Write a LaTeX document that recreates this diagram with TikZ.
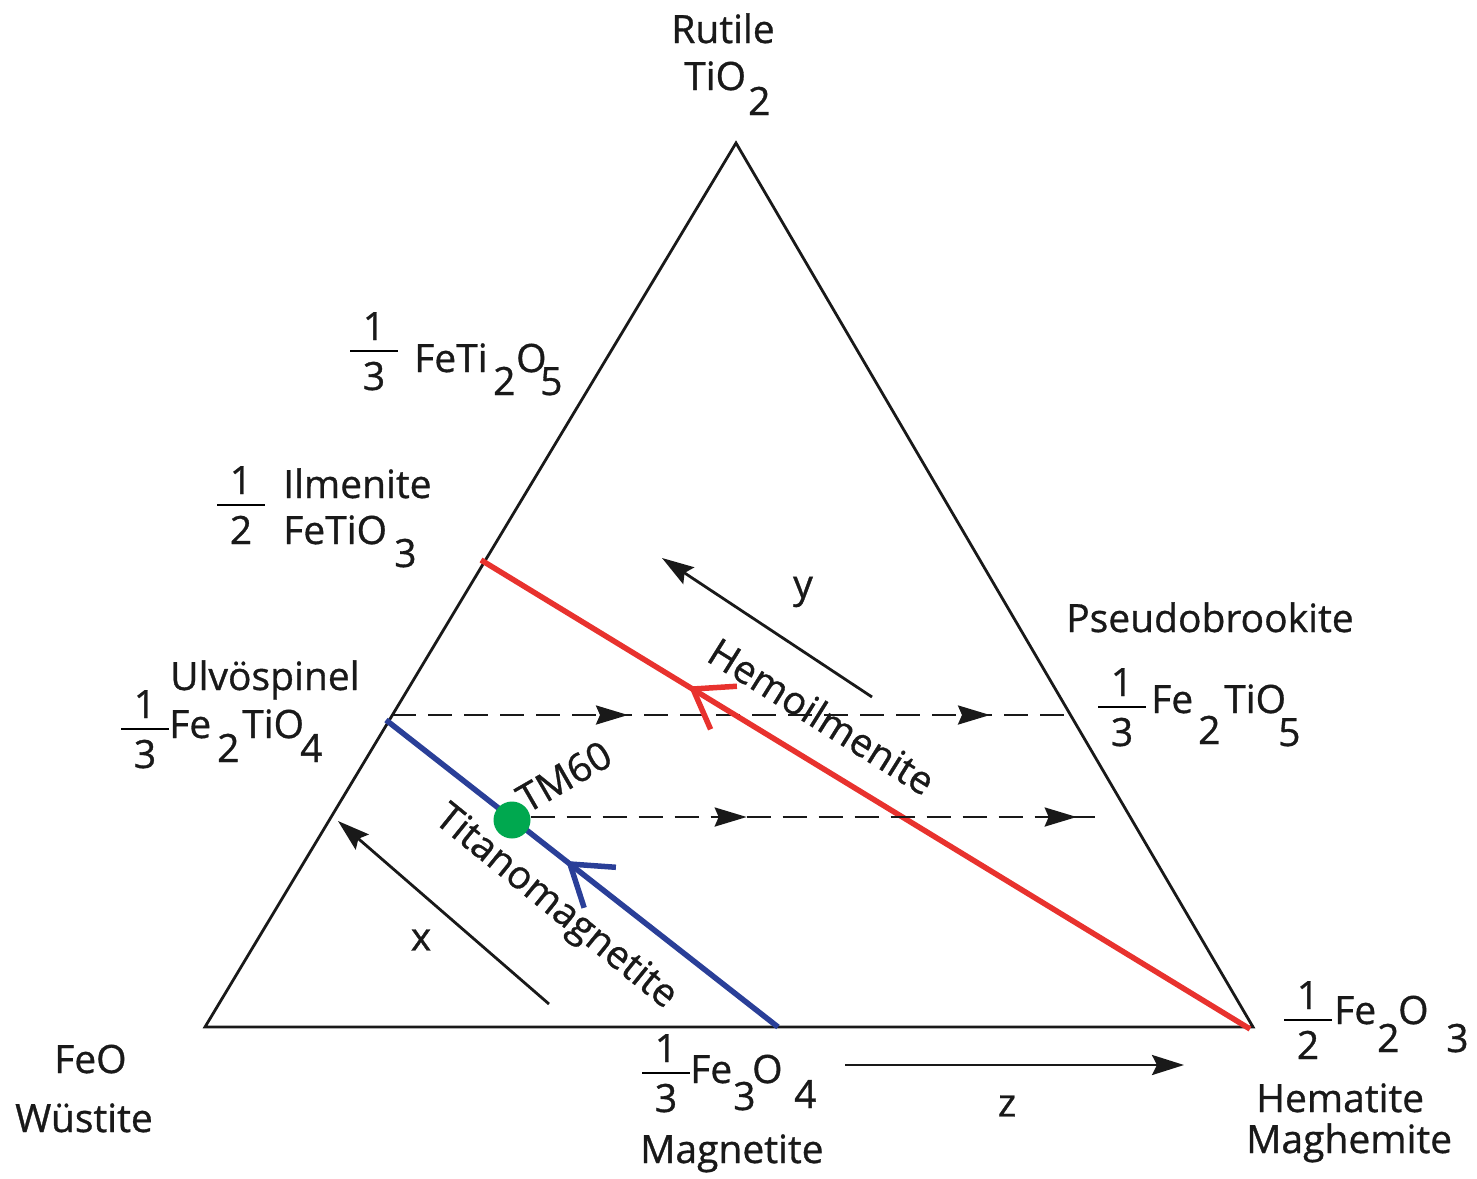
\documentclass[tikz,border=0pt]{standalone}
\usepackage{fontspec}
\setmainfont{Open Sans}[FakeBold=0.8]
\usetikzlibrary{arrows.meta,decorations.markings,calc}
\definecolor{redl}{HTML}{E8322E}
\definecolor{bluel}{HTML}{2A3F98}
\definecolor{greend}{HTML}{00A84F}
\newcommand\chemfs{\fontsize{39}{44}\selectfont}
\tikzset{
  midtip/.tip={Stealth[length=32pt,width=19pt,inset=4pt]},
  pics/fr/.style 2 args={code={
    \node[anchor=base] (-n) at (0,-11) {#1};
    \node[anchor=base] (-d) at (0,39) {#2};
    \draw[line width=2.6pt] (-24,0) -- (24,0);
  }},
}
\begin{document}
\begin{tikzpicture}[x=1pt,y=-1pt,
  every node/.style={font=\chemfs, inner sep=0pt, text=black!90},
  lbl/.style={anchor=base west},
  tri/.style={line width=2.8pt, line join=miter, black!90},
  redln/.style={line width=5.5pt, redl},
  blueln/.style={line width=5.5pt, bluel},
  dashln/.style={line width=2.8pt, black!90, dash pattern=on 24pt off 12pt},
  blkarrow/.style={line width=2.8pt, black!90, -{Stealth[length=32pt,width=20pt,inset=5pt]}},
]
\useasboundingbox (0,0) rectangle (1477,1178);

% triangle
\coordinate (T) at (736,143);
\coordinate (L) at (205,1027);
\coordinate (R) at (1253,1027);
\draw[tri] (T) -- (L) -- (R) -- cycle;

% dashed lines with arrows
\coordinate (d1s) at (392,715);
\coordinate (d1e) at (1070,715);
\draw[dashln, postaction={decorate}, decoration={markings,
   mark=at position 236pt with {\arrow{midtip}},
   mark=at position 598pt with {\arrow{midtip}}}] (d1s) -- (d1e);

% red line (hemoilmenite)
\coordinate (Rs) at (481,560);
\coordinate (Re) at (1250,1029);
\draw[redln] (Rs) -- (Re);
\coordinate (rv) at (693,689);
\draw[redln] ($(rv)!44pt!35:(Re)$) -- (rv) -- ($(rv)!44pt!-35:(Re)$);

% blue line (titanomagnetite)
\coordinate (Bs) at (386,720);
\coordinate (Be) at (778,1027);
\draw[blueln] (Bs) -- (Be);
\coordinate (bv) at (570,864);
\draw[blueln] ($(bv)!46pt!34:(Be)$) -- (bv) -- ($(bv)!46pt!-34:(Be)$);

% TM60 dot and dashed line
\node[circle, fill=greend, minimum size=37pt, inner sep=0pt] (D) at (512,820) {};
\coordinate (d2e) at (1105,817);
\draw[dashln, postaction={decorate}, decoration={markings,
   mark=at position 216pt with {\arrow{midtip}},
   mark=at position 546pt with {\arrow{midtip}}}] (D.east |- d2e) -- (d2e);

% black arrows x, y, z
\coordinate (ya) at (872,697);
\coordinate (yb) at (662,558);
\draw[blkarrow] (ya) -- (yb);
\coordinate (xa) at (549,1004);
\coordinate (xb) at (338,821);
\draw[blkarrow] (xa) -- (xb);
\coordinate (za) at (845,1065);
\coordinate (zb) at (1184,1065);
\draw[blkarrow] (za) -- (zb);

\node (ly) at (803,592) {y};
\node (lx) at (421,940) {x};
\node (lz) at (1007,1106) {z};

% rotated labels
\node[anchor=base west, rotate=30] (tm) at (527,814) {TM60};
\node[rotate=-32] (hem) at (822,716) {Hemoilmenite};
\node[rotate=-39] (tit) at (555,908) {Titanomagnetite};

% Rutile
\node[anchor=base] (rut) at (723,43) {Rutile};
\node[lbl] (tio) at (684,90) {TiO};
\node[lbl] (tio2) at (748,115) {2};

% 1/3 FeTi2O5
\pic (f1) at (374,351) {fr={1}{3}};
\node[lbl] (fti) at (414,372) {FeTi};
\node[lbl] (fti2) at (493,395) {2};
\node[lbl] (ftio) at (516,372) {O};
\node[lbl] (fti5) at (540,395) {5};

% 1/2 Ilmenite FeTiO3
\pic (f2) at (241,505) {fr={1}{2}};
\node[lbl] (ilm) at (283,498) {Ilmenite};
\node[lbl] (ilmf) at (283,544) {FeTiO};
\node[lbl] (ilm3) at (394,567) {3};

% Ulvospinel
\node[lbl] (ulv) at (170,690) {Ulvöspinel};
\pic (f3) at (145,729) {fr={1}{3}};
\node[lbl] (ufe) at (169,738) {Fe};
\node[lbl] (u2) at (217,762) {2};
\node[lbl] (utio) at (242,738) {TiO};
\node[lbl] (u4) at (300,762) {4};

% Pseudobrookite
\node[lbl] (pse) at (1066,632) {Pseudobrookite};
\pic (f4) at (1122,707) {fr={1}{3}};
\node[lbl] (pfe) at (1151,713) {Fe};
\node[lbl] (p2) at (1198,744) {2};
\node[lbl] (ptio) at (1224,713) {TiO};
\node[lbl] (p5) at (1278,746) {5};

% Magnetite
\pic (f5) at (666,1073) {fr={1}{3}};
\node[lbl] (mfe) at (690,1083) {Fe};
\node[lbl] (m3) at (733,1110) {3};
\node[lbl] (mo) at (752,1083) {O};
\node[lbl] (m4) at (794,1108) {4};
\node[lbl] (mag) at (640,1163) {Magnetite};

% Hematite
\pic (f6) at (1308,1020) {fr={1}{2}};
\node[lbl] (hfe) at (1334,1024) {Fe};
\node[lbl] (h2) at (1377,1052) {2};
\node[lbl] (ho) at (1398,1024) {O};
\node[lbl] (h3) at (1446,1052) {3};
\node[lbl] (hem1) at (1256,1112) {Hematite};
\node[lbl] (mgh) at (1246,1153) {Maghemite};

% Wustite
\node[lbl] (feo) at (54,1073) {FeO};
\node[lbl] (wus) at (15,1132) {Wüstite};
\end{tikzpicture}
\end{document}
